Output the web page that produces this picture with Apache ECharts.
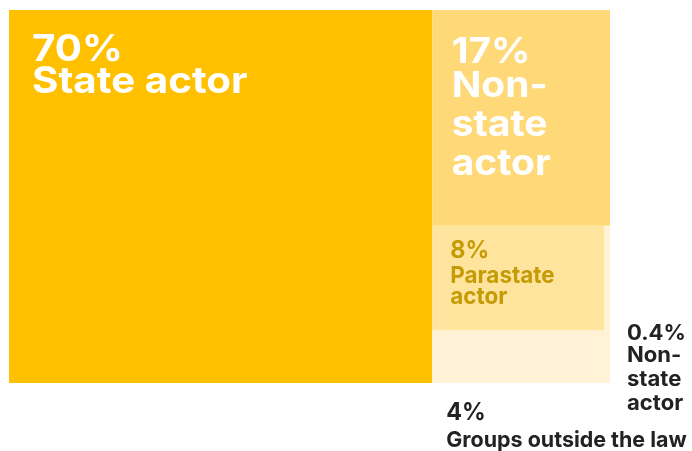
<!DOCTYPE html>
<html>
<head>
<meta charset="utf-8">
<script src="https://cdn.jsdelivr.net/npm/echarts@6/dist/echarts.min.js"></script>
<style>
html,body{margin:0;padding:0;background:#fff;}
#chart{width:692px;height:451px;}
</style>
</head>
<body>
<div id="chart"></div>
<script>
// ---- data ----
const categories = ['State actor', 'Non-state actor', 'Parastate actor', 'Groups outside the law', 'Non-state actor'];
const shares = [70, 17, 8, 4, 0.4];
const pctLabels = ['70%', '17%', '8%', '4%', '0.4%'];
const nameLines = [['State actor'], ['Non-', 'state', 'actor'], ['Parastate', 'actor'], ['Groups outside the law'], ['Non-', 'state', 'actor']];

// ---- styles ----
const colors = ['#FFC000', '#FFD877', '#FFE49E', '#FFF2D7', '#FFF2D7'];
const FONT = 'Inter, "Noto Sans", sans-serif';
const labelStyles = [
  {anchorX: 'left', anchorY: 'top', dx: 23, dy: 23.5, sx: 1.09, color: '#FFFFFF', pSize: 37, pLH: 32, nSize: 37, nLH: 32},
  {anchorX: 'left', anchorY: 'top', dx: 19.5, dy: 27.5, sx: 1.08, color: '#FFFFFF', pSize: 36, pLH: 29, nSize: 36, nLH: 39},
  {anchorX: 'left', anchorY: 'top', dx: 18, dy: 9.5, sx: 0.955, color: '#C59B06', pSize: 24.5, pLH: 30, nSize: 23.5, nLH: 21},
  {anchorX: 'left', anchorY: 'bottom', dx: 14, dy: 15.5, sx: 0.975, color: '#222222', pSize: 24, pLH: 28, nSize: 22, nLH: 28},
  {anchorX: 'right', anchorY: 'bottom', dx: 17, dy: -59.5, sx: 1.05, color: '#222222', pSize: 21, pLH: 20, nSize: 21, nLH: 24}
];

// ---- layout derived from the shares (slice layout) ----
const total = shares.reduce((a, b) => a + b, 0);
const colW = shares[0] / total;
const rest = total - shares[0];
const topH = shares[1] / rest;
const lowerSum = rest - shares[1];
const stripW = (1 - colW) * shares[4] / lowerSum;
const stackSum = shares[2] + shares[3];
const midH = (1 - topH) * shares[2] / stackSum;
const cells = [
  [0, 0, colW, 1],
  [colW, 0, 1, topH],
  [colW, topH, 1 - stripW, topH + midH],
  [colW, topH + midH, 1 - stripW, 1],
  [1 - stripW, topH, 1, 1]
];
const seriesData = cells.map((c, i) => ({name: categories[i], value: c.concat([shares[i]])}));

const chart = echarts.init(document.getElementById('chart'), null, {renderer: 'canvas'});
chart.setOption({
  animation: false,
  grid: {left: 9, top: 10, width: 601, height: 373},
  xAxis: {type: 'value', min: 0, max: 1, show: false},
  yAxis: {type: 'value', min: 0, max: 1, inverse: true, show: false},
  series: [{
    type: 'custom',
    encode: {x: [0, 2], y: [1, 3]},
    data: seriesData,
    renderItem: function (params, api) {
      const i = params.dataIndex;
      const p0 = api.coord([api.value(0), api.value(1)]);
      const p1 = api.coord([api.value(2), api.value(3)]);
      const r = {x: p0[0], y: p0[1], width: p1[0] - p0[0], height: p1[1] - p0[1]};
      const ls = labelStyles[i];
      const ax = ls.anchorX === 'right' ? r.x + r.width : r.x;
      const ay = ls.anchorY === 'bottom' ? r.y + r.height : r.y;
      const txt = '{p|' + pctLabels[i] + '}\n' + nameLines[i].map(s => '{n|' + s + '}').join('\n');
      return {
        type: 'group',
        children: [
          {type: 'rect', shape: r, style: {fill: colors[i]}},
          {
            type: 'text', x: ax + ls.dx, y: ay + ls.dy, scaleX: ls.sx, z2: 10,
            style: {
              text: txt, align: 'left', verticalAlign: 'top',
              rich: {
                p: {fontSize: ls.pSize, lineHeight: ls.pLH, fontWeight: 700, fontFamily: FONT, fill: ls.color},
                n: {fontSize: ls.nSize, lineHeight: ls.nLH, fontWeight: 700, fontFamily: FONT, fill: ls.color}
              }
            }
          }
        ]
      };
    }
  }]
});
</script>
</body>
</html>
